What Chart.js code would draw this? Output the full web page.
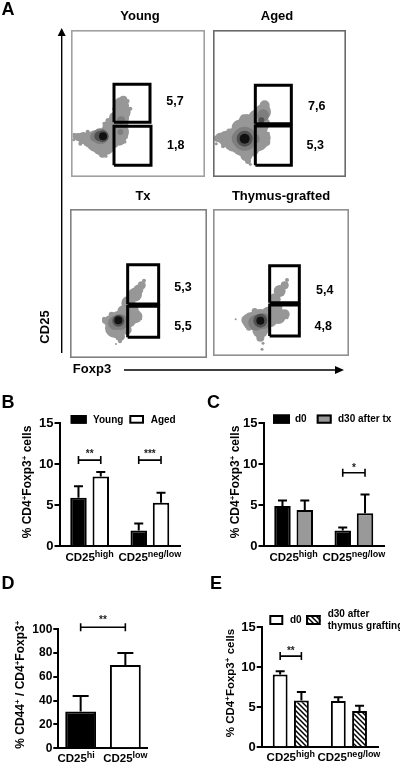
<!DOCTYPE html>
<html><head><meta charset="utf-8">
<script src="https://cdn.jsdelivr.net/npm/chart.js@4"></script>
<style>
html,body{margin:0;padding:0;background:#fff;width:400px;height:764px;overflow:hidden}
#page{position:relative;width:400px;height:764px;font-family:"Liberation Sans",Arial,sans-serif;font-weight:bold;color:#000;filter:blur(0.3px)}
canvas{position:absolute;display:block}
.t{position:absolute;white-space:nowrap;transform:translate(-50%,-50%);line-height:1}
svg{position:absolute;left:0;top:0}
</style></head><body><div id="page">
<svg width="400" height="764">
<line x1="61.7" y1="36" x2="61.7" y2="353" stroke="#000" stroke-width="1.4"/><polygon points="61.7,28 57.7,36 65.7,36" fill="#000"/>
<line x1="124" y1="370" x2="336" y2="370" stroke="#000" stroke-width="1.4"/><polygon points="344,370 335,366 335,374" fill="#000"/>
</svg>
</div>
<script>
// Panel A: flow-cytometry gates and frequencies (channel units; each row: x, y, radius)
const flowNames = ["Young","Aged","Tx","Thymus-grafted"];
const flowFreq = [["5,7","1,8"],["7,6","5,3"],["5,3","5,5"],["5,4","4,8"]];
const gatesYoung = [[129,164,237,278],[129,35,240,152]];
const gatesAged = [[127,160,235,275],[127,35,235,153]];
const gatesTx = [[173,162,266,280],[173,62,266,155]];
const gatesGraft = [[170,160,259,271],[170,60,259,153]];
const cloudYoung = [[9,128,1.5],[8,112,1.5],[14,122,3],[22,120,4],[28,100,2],[37,117,6],[50,136,2],[57,112,8],[62,90,2.5],[77,108,11],[97,103,13],[85,85,6],[95,70,4],[105,62,1.5],[117,118,10],[115,148,7],[105,138,5],[100,160,2],[112,168,3],[132,178,6],[150,215,8],[157,232,4],[170,228,2],[178,205,2],[155,195,8],[150,175,8],[148,160,8],[150,135,8],[145,115,7],[130,100,4],[165,120,2],[162,105,1.5],[128,205,1.5]];
const shadeYoung = [[72,120,5],[88,122,8],[150,170,4],[148,135,3]];
const midYoung = [[85,122,5],[95,122,6]];
const coreYoung = [[96,122,4],[99,122,2.5]];
const cloudAged = [[8,120,1.5],[12,115,3],[10,100,1.5],[22,118,5],[40,115,8],[48,138,2.5],[30,92,2],[65,112,12],[95,110,16],[100,65,6],[105,48,3],[112,38,1.5],[115,85,8],[130,115,13],[155,118,6],[160,105,4],[165,130,2],[80,148,8],[68,160,2],[100,165,8],[90,180,2.5],[130,178,8],[150,195,8],[155,215,5],[165,205,2],[135,150,10],[150,160,7],[110,145,11]];
const shadeAged = [[80,115,8],[95,115,12],[125,115,5],[150,185,6]];
const midAged = [[95,115,8],[145,170,3]];
const coreAged = [[95,115,5],[96,115,3]];
const cloudTx = [[102,118,2],[105,112,3],[120,110,6],[112,90,2],[135,90,10],[148,112,10],[125,130,3],[150,65,5],[150,50,2],[138,42,1],[175,115,8],[195,125,7],[205,125,4],[212,118,1.5],[170,85,5],[185,145,7],[175,165,7],[165,155,2.5],[195,190,7],[205,205,5],[215,218,4],[222,232,2],[160,140,6]];
const shadeTx = [[135,105,7],[150,108,8]];
const midTx = [[145,112,6]];
const coreTx = [[145,113,4],[146,113,2]];
const cloudGraft = [[68,110,1],[100,108,5],[115,105,9],[108,85,3],[142,105,12],[142,78,8],[142,55,4],[150,38,1.5],[147,20,1.5],[170,110,8],[195,120,8],[215,125,5],[222,115,1.5],[190,145,6],[185,170,6],[200,195,6],[215,212,4],[222,228,2],[165,130,6],[125,135,3]];
const shadeGraft = [[130,100,8],[150,105,8]];
const midGraft = [[142,106,7]];
const coreGraft = [[142,106,4],[142,106,2]];

// Panel B
const catsB = ["CD25^high","CD25^neg/low"];
const youngB = [5.9,1.9], youngTopB = [7.3,2.75];
const agedB = [8.5,5.3], agedTopB = [9.05,6.5];
// Panel C
const catsC = ["CD25^high","CD25^neg/low"];
const d0C = [4.9,1.9], d0TopC = [5.55,2.25];
const d30C = [4.4,4.0], d30TopC = [5.55,6.3];
// Panel D
const catsD = ["CD25^hi","CD25^low"];
const valuesD = [31,70], topsD = [44,80];
// Panel E
const catsE = ["CD25^high","CD25^neg/low"];
const d0E = [9.1,5.8], d0TopE = [9.5,6.25];
const d30E = [5.85,4.55], d30TopE = [6.9,5.2];

const FONT = '"Liberation Sans", Arial, sans-serif';
const page = document.getElementById('page');

function text(str, x, y, size, rot){
  const d = document.createElement('div'); d.className='t'; d.textContent=str;
  d.style.left=x+'px'; d.style.top=y+'px'; d.style.fontSize=size+'px';
  if(rot) d.style.transform='translate(-50%,-50%) rotate('+rot+'deg)';
  page.appendChild(d);
}
function makeCanvas(x,y,w,h){
  const c=document.createElement('canvas'); c.width=w; c.height=h;
  c.style.left=x+'px'; c.style.top=y+'px'; c.style.width=w+'px'; c.style.height=h+'px';
  page.appendChild(c); return c;
}
// Mixed-size text: segments after a ^ are superscript
function rich(ctx, str, cx, base, size, supSize, raise){
  const parts = str.split('^'); let w = 0;
  parts.forEach((p,i)=>{ ctx.font='bold '+(i%2?supSize:size)+'px '+FONT; w+=ctx.measureText(p).width; });
  let x = cx - w/2; ctx.textAlign='left'; ctx.textBaseline='alphabetic'; ctx.fillStyle='#000';
  parts.forEach((p,i)=>{ const s=i%2; ctx.font='bold '+(s?supSize:size)+'px '+FONT;
    ctx.fillText(p,x,base-(s?raise:0)); x+=ctx.measureText(p).width; });
}
const annotate = {
  id:'annotate',
  afterDraw(chart){
    const o = chart.options.plugins.annotate; if(!o) return;
    const ctx = chart.ctx, ys = chart.scales.y, xs = chart.scales.x;
    ctx.save();
    // error bars, upper side only
    chart.data.datasets.forEach((ds,i)=>{
      const meta = chart.getDatasetMeta(i);
      ds.tops.forEach((v,j)=>{
        const b = meta.data[j], yt = ys.getPixelForValue(v), yb = ys.getPixelForValue(ds.data[j]);
        ctx.strokeStyle='#000'; ctx.lineWidth=o.errW; ctx.beginPath();
        ctx.moveTo(b.x,yb); ctx.lineTo(b.x,yt);
        ctx.moveTo(b.x-o.cap,yt); ctx.lineTo(b.x+o.cap,yt); ctx.stroke();
      });
    });
    // significance brackets
    (o.brackets||[]).forEach(br=>{
      const a = chart.getDatasetMeta(br.from[0]).data[br.from[1]].x;
      const c = chart.getDatasetMeta(br.to[0]).data[br.to[1]].x;
      const y = ys.getPixelForValue(br.value);
      ctx.strokeStyle='#000'; ctx.lineWidth=1.6; ctx.beginPath();
      ctx.moveTo(a,y); ctx.lineTo(c,y);
      ctx.moveTo(a,y-4); ctx.lineTo(a,y+4); ctx.moveTo(c,y-4); ctx.lineTo(c,y+4); ctx.stroke();
      ctx.font='bold 10px '+FONT; ctx.textAlign='center'; ctx.textBaseline='alphabetic'; ctx.fillStyle='#222';
      ctx.fillText(br.label,(a+c)/2,y-o.starUp);
    });
    // category labels with superscripts
    xs.ticks.forEach((t,i)=>{
      rich(ctx, chart.data.labels[i], xs.getPixelForTick(i)+(o.labelShift?o.labelShift[i]:0), o.labelBase-o.box[1], o.lab, o.labSup, 4);
    });
    // value-axis title
    ctx.save(); ctx.translate(o.titleX-o.box[0], o.titleY-o.box[1]); ctx.rotate(-Math.PI/2);
    rich(ctx, o.title, 0, 0, o.titleSize, 8, 4); ctx.restore();
    // legend
    (o.legend||[]).forEach((l,i)=>{
      const ds = chart.data.datasets[i];
      const x0=l.r[0]-o.box[0], y0=l.r[1]-o.box[1], w=l.r[2]-l.r[0], h=l.r[3]-l.r[1];
      ctx.fillStyle=ds.backgroundColor; ctx.fillRect(x0,y0,w,h);
      ctx.strokeStyle='#000'; ctx.lineWidth=2; ctx.strokeRect(x0+1,y0+1,w-2,h-2);
      ctx.fillStyle='#000'; ctx.font='bold 10px '+FONT; ctx.textAlign='left'; ctx.textBaseline='middle';
      ds.label.split('\n').forEach((line,k)=>ctx.fillText(line,l.tx-o.box[0],l.ty[k]-o.box[1]+0.5));
    });
    ctx.restore();
  }
};
function barChart(c){
  const [bx,by,bw,bh]=c.box, [l,t,r,b]=c.plot;
  new Chart(makeCanvas(bx,by,bw,bh),{
    type:'bar', plugins:[annotate],
    data:{labels:c.cats,datasets:c.sets.map(s=>Object.assign({borderColor:'#000',borderWidth:2,categoryPercentage:c.catPct,barPercentage:c.barPct},s))},
    options:{responsive:false,animation:false,
      layout:{padding:{left:0,top:t-by,right:bx+bw-r,bottom:0}},
      plugins:{legend:{display:false},tooltip:{enabled:false},
        annotate:Object.assign({box:c.box},c.ann)},
      scales:{
        x:{type:'category',ticks:{display:false},grid:{display:false},border:{color:'#000',width:2},
           afterFit(s){s.height=by+bh-b;}},
        y:{min:0,max:c.yMax,ticks:{stepSize:c.yStep,color:'#000',padding:1,font:{family:FONT,weight:'bold',size:c.tick}},
           grid:{drawOnChartArea:false,color:'#000',lineWidth:2,tickLength:5,tickColor:'#000',tickWidth:2},
           border:{color:'#000',width:2},afterFit(s){s.width=l-bx;}}
      }}
  });
}
function hatch(){
  const p=document.createElement('canvas'); p.width=5; p.height=5;
  const g=p.getContext('2d'); g.fillStyle='#fff'; g.fillRect(0,0,5,5);
  g.strokeStyle='#000'; g.lineWidth=1.5; g.beginPath();
  g.moveTo(-1,-1); g.lineTo(6,6); g.moveTo(-1,4); g.lineTo(1,6); g.moveTo(4,-1); g.lineTo(6,1); g.stroke();
  return g.createPattern(p,'repeat');
}
function flow(x,y,w,h,frame,gates,core,mid,shade,cloud){
  const pts = a=>a.map(p=>({x:p[0],y:p[1],r:p[2]}));
  const W=w*3, H=h*3;
  // the bubble controller reserves its largest radius around the plot, so the canvas grows by that much
  const m=Math.max(...[...core,...mid,...shade,...cloud].map(p=>p[2]));
  const gateSets = gates.map(g=>({type:'scatter',showLine:true,pointRadius:0,borderColor:'#000',borderWidth:3,
    data:[{x:g[0],y:g[1]},{x:g[2],y:g[1]},{x:g[2],y:g[3]},{x:g[0],y:g[3]},{x:g[0],y:g[1]}]}));
  const blob=(a,col)=>({data:pts(a),backgroundColor:col,borderWidth:0,hoverRadius:0});
  new Chart(makeCanvas(x-m,y-m,w+2*m,h+2*m),{
    type:'bubble',
    plugins:[{id:'frame',afterDraw(ch){const c=ch.ctx,a=ch.chartArea;c.save();c.strokeStyle=frame;c.lineWidth=1.6;c.strokeRect(a.left+.8,a.top+.8,a.right-a.left-1.6,a.bottom-a.top-1.6);c.restore();}}],
    data:{datasets:[...gateSets,blob(core,'#111'),blob(mid,'#505050'),blob(shade,'#7e7e7e'),blob(cloud,'#979797')]},
    options:{responsive:false,animation:false,layout:{padding:0},
      plugins:{legend:{display:false},tooltip:{enabled:false}},
      scales:{x:{type:'linear',display:false,min:0,max:W},y:{type:'linear',display:false,min:0,max:H}}}
  });
}
flow(71,30,134,147,'#a0a0a0',gatesYoung,coreYoung,midYoung,shadeYoung,cloudYoung);
flow(213,30,133,147,'#6a6a6a',gatesAged,coreAged,midAged,shadeAged,cloudAged);
flow(70,209,137,149,'#808080',gatesTx,coreTx,midTx,shadeTx,cloudTx);
flow(213,209,136,147,'#909090',gatesGraft,coreGraft,midGraft,shadeGraft,cloudGraft);

text(flowNames[0],140,15,13); text(flowNames[1],277,15,13);
text(flowNames[2],143,195,13); text(flowNames[3],281,195,13);
text(flowFreq[0][0],175,101,12.5); text(flowFreq[0][1],175.7,145.3,12.5);
text(flowFreq[1][0],316.7,106,12.5); text(flowFreq[1][1],315.3,145,12.5);
text(flowFreq[2][0],183,286.7,12.5); text(flowFreq[2][1],183,326,12.5);
text(flowFreq[3][0],324.7,290,12.5); text(flowFreq[3][1],323.3,326,12.5);
text("CD25",44,327,13,-90); text("Foxp3",92,368,13);
text("A",8,9,18); text("B",8,402,18); text("C",213.5,402,18); text("D",8,583,18); text("E",216,583,18);

barChart({box:[0,405,200,165],plot:[59.5,423.3,180,546],cats:catsB,yMax:15,yStep:5,tick:13,catPct:.74,barPct:.74,
  sets:[{label:"Young",data:youngB,tops:youngTopB,backgroundColor:'#000'},{label:"Aged",data:agedB,tops:agedTopB,backgroundColor:'#fff'}],
  ann:{errW:2,cap:4.5,starUp:3,lab:11.5,labSup:9,labelBase:561,title:"% CD4^+^Foxp3^+^ cells",titleX:31,titleY:482,titleSize:12,
    brackets:[{from:[0,0],to:[1,0],value:10.5,label:"**"},{from:[0,1],to:[1,1],value:10.5,label:"***"}],
    legend:[{r:[70.7,415,86.7,423.7],tx:93,ty:[419.5]},{r:[129.3,415,144,423.7],tx:150.7,ty:[419.5]}]}});
barChart({box:[205,405,195,165],plot:[263.5,423.3,384,546],cats:catsC,yMax:15,yStep:5,tick:13,catPct:.74,barPct:.74,
  sets:[{label:"d0",data:d0C,tops:d0TopC,backgroundColor:'#000'},{label:"d30 after tx",data:d30C,tops:d30TopC,backgroundColor:'#999'}],
  ann:{errW:2,cap:4.5,starUp:2,lab:11.5,labSup:9,labelBase:561,title:"% CD4^+^Foxp3^+^ cells",titleX:239,titleY:482,titleSize:12,
    brackets:[{from:[0,1],to:[1,1],value:8.96,label:"*"}],
    legend:[{r:[273,414.5,290,423.7],tx:295,ty:[419]},{r:[316.7,414.5,331.7,423.7],tx:338,ty:[419]}]}});
barChart({box:[0,605,200,159],plot:[58.3,629.3,147.7,748.3],cats:catsD,yMax:100,yStep:20,tick:12,catPct:.69,barPct:1,
  sets:[{label:"",data:valuesD,tops:topsD,backgroundColor:['#000','#fff']}],
  ann:{errW:2,cap:8,starUp:4,lab:11.5,labSup:9,labelBase:762,labelShift:[-4.5,0],title:"% CD44^+^ / CD4^+^Foxp3^+",titleX:24,titleY:684.7,titleSize:12,
    brackets:[{from:[0,0],to:[0,1],value:101.7,label:"**"}]}});
const hatchFill = hatch();
barChart({box:[205,605,195,159],plot:[261.7,627.3,378,747.3],cats:catsE,yMax:15,yStep:5,tick:13,catPct:.73,barPct:.7,
  sets:[{label:"d0",data:d0E,tops:d0TopE,backgroundColor:'#fff'},{label:"d30 after\nthymus grafting",data:d30E,tops:d30TopE,backgroundColor:hatchFill}],
  ann:{errW:2,cap:4.5,starUp:2,lab:11.5,labSup:9,labelBase:760.5,title:"% CD4^+^Foxp3^+^ cells",titleX:234,titleY:683,titleSize:11.5,
    brackets:[{from:[0,0],to:[1,0],value:11.4,label:"**"}],
    legend:[{r:[269.3,615,283.3,625],tx:290,ty:[620]},{r:[306,615,320.7,625],tx:327.7,ty:[614,626]}]}});
</script></body></html>
